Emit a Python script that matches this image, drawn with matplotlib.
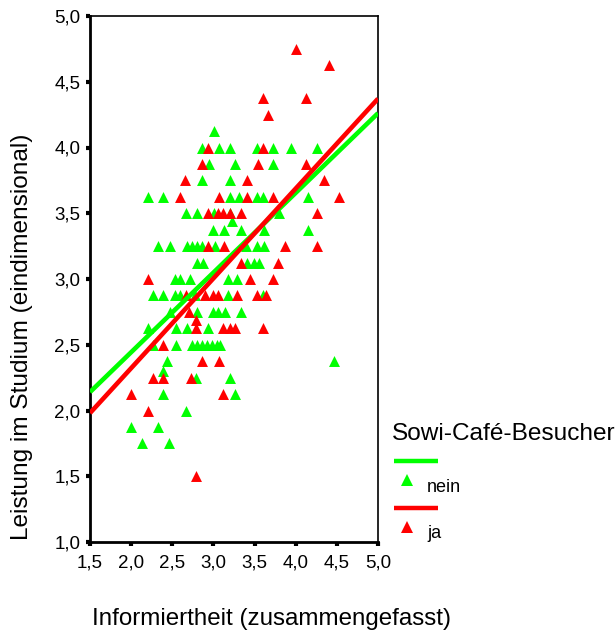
import numpy as np
import matplotlib
matplotlib.use("Agg")
import matplotlib.pyplot as plt
from matplotlib.lines import Line2D

plt.rcParams["font.family"] = ["Liberation Sans", "DejaVu Sans"]

# nein (green)
nein_x = [3.01,
          2.86, 3.07, 3.20, 3.53, 3.73, 3.94, 4.26,
          2.95, 3.26, 3.73,
          2.86, 3.20,
          2.20, 2.39, 3.20, 3.31, 3.53, 3.60, 4.15,
          2.67, 2.80, 3.01, 3.20, 3.80,
          3.22,
          3.00, 3.13, 3.33, 3.61, 4.15,
          2.33, 2.47, 2.68, 2.74, 2.80, 2.86, 3.02, 3.39, 3.53, 3.61,
          2.80, 2.87, 3.41, 3.49, 3.55,
          2.53, 2.59, 2.72, 3.18, 3.29,
          2.27, 2.39, 2.53, 2.59, 2.78, 3.18, 3.60,
          2.47, 2.80, 3.00, 3.06, 3.14, 3.33,
          2.20, 2.55, 2.68, 2.94,
          2.27, 2.55, 2.74, 2.80, 2.86, 2.92, 2.98, 3.04, 3.08,
          2.43, 4.47,
          2.39,
          2.79, 3.20,
          2.39, 3.26,
          2.67,
          2.00, 2.33,
          2.13, 2.46]
nein_y = [4.125,
          4.0, 4.0, 4.0, 4.0, 4.0, 4.0, 4.0,
          3.875, 3.875, 3.875,
          3.75, 3.75,
          3.625, 3.625, 3.625, 3.625, 3.625, 3.625, 3.625,
          3.5, 3.5, 3.5, 3.5, 3.5,
          3.4375,
          3.375, 3.375, 3.375, 3.375, 3.375,
          3.25, 3.25, 3.25, 3.25, 3.25, 3.25, 3.25, 3.25, 3.25, 3.25,
          3.125, 3.125, 3.125, 3.125, 3.125,
          3.0, 3.0, 3.0, 3.0, 3.0,
          2.875, 2.875, 2.875, 2.875, 2.875, 2.875, 2.875,
          2.75, 2.75, 2.75, 2.75, 2.75, 2.75,
          2.625, 2.625, 2.625, 2.625,
          2.5, 2.5, 2.5, 2.5, 2.5, 2.5, 2.5, 2.5, 2.5,
          2.375, 2.375,
          2.3,
          2.25, 2.25,
          2.125, 2.125,
          2.0,
          1.875, 1.875,
          1.75, 1.75]

# ja (red)
ja_x = [4.00,
        4.40,
        3.60, 4.13,
        3.66,
        2.94, 3.60,
        2.86, 3.54, 4.13,
        2.66, 3.41, 4.34,
        2.59, 3.07, 3.41, 3.73, 4.53,
        2.94, 3.06, 3.12, 3.20, 3.33, 4.26,
        2.94, 3.13, 3.87, 4.26,
        3.33, 3.79,
        2.20, 3.44, 3.72,
        2.67, 2.90, 3.00, 3.06, 3.29, 3.53, 3.64,
        2.70, 2.79,
        2.79, 3.12, 3.20, 3.26, 3.60,
        2.39,
        2.86, 3.07,
        2.26, 2.39, 2.73,
        2.00, 3.12,
        2.20,
        2.79]
ja_y = [4.75,
        4.625,
        4.375, 4.375,
        4.25,
        4.0, 4.0,
        3.875, 3.875, 3.875,
        3.75, 3.75, 3.75,
        3.625, 3.625, 3.625, 3.625, 3.625,
        3.5, 3.5, 3.5, 3.5, 3.5, 3.5,
        3.25, 3.25, 3.25, 3.25,
        3.125, 3.125,
        3.0, 3.0, 3.0,
        2.875, 2.875, 2.875, 2.875, 2.875, 2.875, 2.875,
        2.75, 2.6875,
        2.625, 2.625, 2.625, 2.625, 2.625,
        2.5,
        2.375, 2.375,
        2.25, 2.25, 2.25,
        2.125, 2.125,
        2.0,
        1.5]

# regression lines (slope, intercept)
nein_fit = (0.606, 1.231)
ja_fit = (0.683, 0.956)

green = "#00ff00"
red = "#ff0000"

fig = plt.figure(figsize=(6.16, 6.35), dpi=100)
ax = fig.add_axes([90 / 616, 93 / 635, 288 / 616, 526 / 635])

ax.scatter(nein_x, nein_y, marker="^", s=62, color=green, linewidths=0, zorder=2)
ax.scatter(ja_x, ja_y, marker="^", s=62, color=red, linewidths=0, zorder=3)

xs = np.array([1.5, 5.0])
ax.plot(xs, nein_fit[0] * xs + nein_fit[1], color=green, lw=3.3, zorder=4,
        solid_capstyle="butt")
ax.plot(xs, ja_fit[0] * xs + ja_fit[1], color=red, lw=3.3, zorder=5,
        solid_capstyle="butt")

ax.set_xlim(1.5, 5.0)
ax.set_ylim(1.0, 5.0)
ticks_x = np.arange(1.5, 5.01, 0.5)
ticks_y = np.arange(1.0, 5.01, 0.5)
ax.set_xticks(ticks_x)
ax.set_yticks(ticks_y)
ax.set_xticklabels([f"{t:.1f}".replace(".", ",") for t in ticks_x], fontsize=13.5)
ax.set_yticklabels([f"{t:.1f}".replace(".", ",") for t in ticks_y], fontsize=13.5)
ax.tick_params(direction="out", length=3, width=3, colors="black")
ax.tick_params(axis="x", pad=6)
ax.tick_params(axis="y", pad=4)

ax.spines["left"].set_linewidth(2)
ax.spines["bottom"].set_linewidth(2)
ax.spines["top"].set_linewidth(1.2)
ax.spines["right"].set_linewidth(1.2)

fig.text(271 / 616, 1 - 619 / 635, "Informiertheit (zusammengefasst)",
         ha="center", va="center", fontsize=17.4)
fig.text(22 / 616, 1 - 337 / 635, "Leistung im Studium (eindimensional)",
         ha="center", va="center", rotation=90, fontsize=17.6)

# legend drawn by hand
fig.text(392 / 616, 1 - 434 / 635, "Sowi-Café-Besucher", ha="left", va="center",
         fontsize=17.6)
fig.add_artist(Line2D([394 / 616, 438 / 616], [1 - 461 / 635] * 2, color=green,
                      lw=3.2, transform=fig.transFigure, solid_capstyle="butt"))
fig.add_artist(Line2D([407 / 616], [1 - 480 / 635], marker="^", ms=8, color=green,
                      mew=0, transform=fig.transFigure))
fig.text(427 / 616, 1 - 487 / 635, "nein", ha="left", va="center", fontsize=13)
fig.add_artist(Line2D([394 / 616, 438 / 616], [1 - 508 / 635] * 2, color=red,
                      lw=3.2, transform=fig.transFigure, solid_capstyle="butt"))
fig.add_artist(Line2D([407 / 616], [1 - 527 / 635], marker="^", ms=8, color=red,
                      mew=0, transform=fig.transFigure))
fig.text(427 / 616, 1 - 533 / 635, "ja", ha="left", va="center", fontsize=13)

fig.savefig("out.png", dpi=100)
